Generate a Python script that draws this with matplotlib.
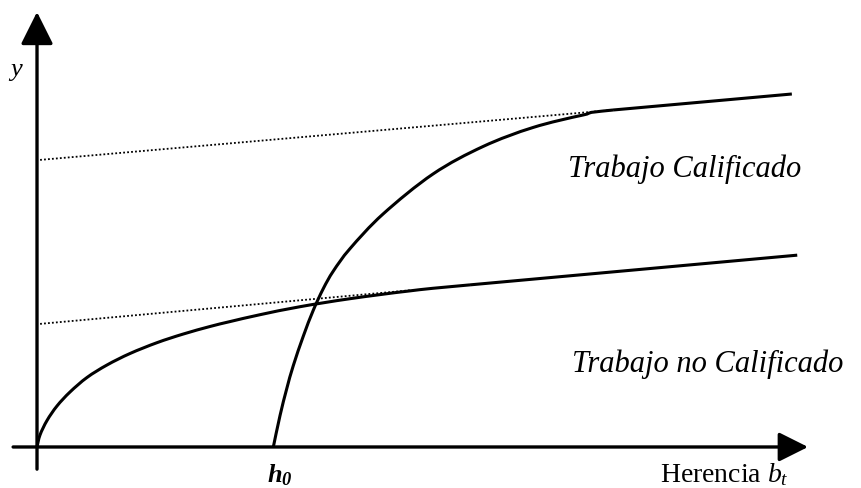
import matplotlib
matplotlib.use("Agg")
import matplotlib.pyplot as plt
from matplotlib.path import Path
from matplotlib.patches import PathPatch

# ---- data (chart units) ----
# unskilled-labour income curve (starts at origin)
unskilled_x = [0, 0.389, 1.297, 2.594, 4.280, 6.485, 9.079, 12.062, 15.564, 18.936,
               22.438, 25.032, 28.923, 34.112, 40.597, 48.379, 56.161]
unskilled_y = [0, 2.76, 6.09, 9.43, 12.64, 15.98, 18.85, 21.49, 23.98, 25.95,
               27.70, 28.83, 30.41, 32.25, 34.09, 35.89, 37.27]
# unskilled asymptotic line: dotted part [0:2], solid part [2:]
unskilled_line_x = [0.4, 48.38, 56.16, 98.6]
unskilled_line_y = [28.3, 36.02, 37.27, 44.1]

# skilled-labour income curve (starts at h0)
skilled_x = [30.65, 31.52, 32.39, 33.24, 34.54, 35.84, 37.13, 38.43, 40.60, 44.88,
             51.36, 57.85, 64.33, 70.82, 74.71]
skilled_y = [0, 7.24, 13.4, 18.71, 25.49, 31.47, 36.41, 40.44, 45.61, 53.56,
             62.76, 69.08, 73.45, 76.32, 77.47]
# skilled asymptotic line: dotted part [0:2], solid part [1:]
skilled_line_x = [0.4, 74.71, 97.9]
skilled_line_y = [66.0, 77.47, 81.15]

h0 = 30.65
labels = {"y": "$y$", "x": r"Herencia $b_t$", "h0": r"$\mathbfit{h}_{\mathbfit{0}}$",
          "skilled": "Trabajo Calificado", "unskilled": "Trabajo no Calificado"}

plt.rcParams["mathtext.fontset"] = "custom"
plt.rcParams["mathtext.rm"] = "Liberation Serif"
plt.rcParams["mathtext.it"] = "Liberation Serif:italic"
plt.rcParams["mathtext.bf"] = "Liberation Serif:bold"
plt.rcParams["mathtext.bfit"] = "Liberation Serif:italic:bold"


def smooth_path(xs, ys, next_pt):
    """Cubic Bezier path through the given points (Catmull-Rom tangents)."""
    pts = list(zip(xs, ys))
    ext = [pts[0]] + pts + [next_pt]
    verts = [pts[0]]
    codes = [Path.MOVETO]
    for i in range(len(pts) - 1):
        p0, p1, p2, p3 = ext[i], ext[i + 1], ext[i + 2], ext[i + 3]
        c1 = (p1[0] + (p2[0] - p0[0]) / 6, p1[1] + (p2[1] - p0[1]) / 6)
        c2 = (p2[0] - (p3[0] - p1[0]) / 6, p2[1] - (p3[1] - p1[1]) / 6)
        verts += [c1, c2, p2]
        codes += [Path.CURVE4] * 3
    return Path(verts, codes)


fig = plt.figure(figsize=(8.61, 4.89), dpi=100)
ax = fig.add_axes([0, 0, 1, 1])
ax.set_xlim(-4.8, 106.87)
ax.set_ylim(-9.43, 102.99)
ax.axis("off")

# axes with arrows
ax.annotate("", xy=(100, 0), xytext=(-3.1, 0),
            arrowprops=dict(arrowstyle="-|>,head_length=1.0,head_width=0.5",
                            mutation_scale=18, lw=2.4, color="black",
                            shrinkA=0, shrinkB=0))
ax.annotate("", xy=(0, 100), xytext=(0, -5.1),
            arrowprops=dict(arrowstyle="-|>,head_length=1.0,head_width=0.5",
                            mutation_scale=20, lw=2.4, color="black",
                            shrinkA=0, shrinkB=0))

# dotted asymptotes
ax.plot(unskilled_line_x[:2], unskilled_line_y[:2], color="black", lw=1.3,
        linestyle=(0, (1, 1.2)))
ax.plot(skilled_line_x[:2], skilled_line_y[:2], color="black", lw=1.3,
        linestyle=(0, (1, 1.2)))
# solid line parts
ax.plot(unskilled_line_x[2:], unskilled_line_y[2:], color="black", lw=2.2,
        solid_capstyle="butt")
ax.plot(skilled_line_x[1:], skilled_line_y[1:], color="black", lw=2.2,
        solid_capstyle="butt")
# curves
ax.add_patch(PathPatch(smooth_path(unskilled_x, unskilled_y,
                                   (unskilled_line_x[3], unskilled_line_y[3])),
                       fill=False, lw=2.2, edgecolor="black"))
ax.add_patch(PathPatch(smooth_path(skilled_x, skilled_y,
                                   (skilled_line_x[2], skilled_line_y[2])),
                       fill=False, lw=2.2, edgecolor="black"))

serif = "Liberation Serif"
ax.text(-2.72, 86.4, labels["y"], fontsize=19, ha="center", va="center",
        family=serif)
ax.text(68.87, 62.3, labels["skilled"], fontsize=22, style="italic",
        family=serif, ha="left", va="baseline")
ax.text(69.39, 17.47, labels["unskilled"], fontsize=22, style="italic",
        family=serif, ha="left", va="baseline")
ax.text(80.8, -7.8, labels["x"], fontsize=20, family=serif, ha="left",
        va="baseline")
ax.text(h0 - 0.8, -8.0, labels["h0"], fontsize=19, family=serif, ha="left",
        va="baseline")

fig.savefig("out.png", dpi=100)
